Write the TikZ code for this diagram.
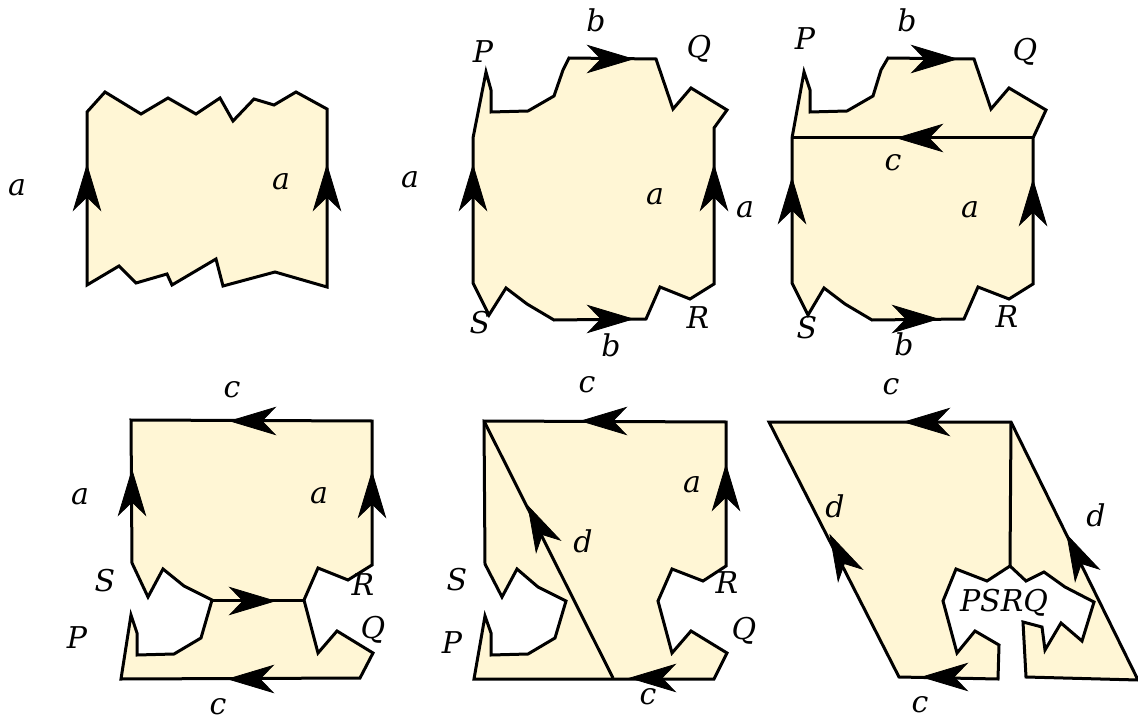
\documentclass[tikz,border=0pt]{standalone}
\usepackage{fontspec}
\setmainfont{DejaVu Serif}
\definecolor{paper}{HTML}{FFF6D5}
\tikzset{
  sheet/.style={draw=black,fill=paper,line width=3pt,miter limit=10},
  fold/.style={draw=black,line width=3pt},
  lab/.style={inner sep=0pt,font=\fontsize{30}{30}\selectfont\itshape,text=black},
  barb/.pic={\filldraw[black,line width=0.8pt,line join=miter] (0,0)--(-45,13.5)--(-32,0)--(-45,-13.5)--cycle;}
}
\begin{document}
\begin{tikzpicture}[x=1pt,y=-1pt]
\useasboundingbox (0,0) rectangle (1138,722);
% 1
\draw[sheet] (87,112)--(105,92)--(141,114)--(168,98)--(196,114)--(220,98)--(233,121)--(254,99)--(274,105)--(296,92)--(327,109)--(327,287)--(275,272)--(223,286)--(216,259)--(172,285)--(167,274)--(136,283)--(119,266)--(87,285)--cycle;
\pic[rotate=90] at (87,165) {barb};
\pic[rotate=90] at (327,165) {barb};
\node[lab] (a1) at (17,188) {a};
\node[lab] (a2) at (281,182) {a};
% 2
\draw[sheet] (473,138)--(486,72)--(491,90)--(491,112)--(528,111)--(554,96)--(563,70)--(569,58)--(656,59)--(673,109)--(691,88)--(727,110)--(714,128)--(714,284)--(690,299)--(660,287)--(646,319)--(554,320)--(527,304)--(506,288)--(489,315)--(473,283)--cycle;
\pic[rotate=90] at (473,165) {barb};
\pic[rotate=90] at (714,165) {barb};
\pic at (633,59) {barb};
\pic at (633,319) {barb};
\node[lab] (a3) at (410,180) {a};
\node[lab] (a4) at (655,197) {a};
\node[lab] (a5) at (745,210) {a};
\node[lab] (b1) at (596,20) {b};
\node[lab] (b2) at (611,345) {b};
\node[lab] (P1) at (483,52) {P};
\node[lab] (Q1) at (699,49) {Q};
\node[lab] (S1) at (480,323) {S};
\node[lab] (R1) at (698,318) {R};
% 3
\draw[sheet] (792,138)--(804,72)--(810,90)--(810,112)--(847,111)--(873,96)--(881,70)--(888,58)--(974,59)--(991,109)--(1009,88)--(1046,110)--(1033,138)--(1033,284)--(1009,299)--(978,287)--(964,319)--(872,320)--(845,304)--(824,288)--(808,315)--(792,283)--cycle;
\coordinate (c3l) at (792,138);
\coordinate (c3r) at (1033,138);
\draw[fold] (c3l)--(c3r);
\pic[rotate=180] at (897,138) {barb};
\pic[rotate=90] at (792,178) {barb};
\pic[rotate=90] at (1033,180) {barb};
\pic at (957,59) {barb};
\pic at (938,319) {barb};
\node[lab] (P2) at (805,39) {P};
\node[lab] (b3) at (907,20) {b};
\node[lab] (Q2) at (1025,52) {Q};
\node[lab] (c1) at (893,163) {c};
\node[lab] (a6) at (970,210) {a};
\node[lab] (R2) at (1007,317) {R};
\node[lab] (S2) at (807,328) {S};
\node[lab] (b4) at (904,344) {b};
% 4
\draw[sheet] (131,420)--(372,421)--(372,565)--(348,580)--(318,568)--(304,600)--(318,653)--(337,631)--(373,653)--(360,678)--(121,679)--(131,615)--(137,633)--(137,655)--(174,654)--(201,638)--(212,600)--(184,586)--(163,569)--(148,597)--(132,563)--cycle;
\coordinate (c4l) at (212,600);
\coordinate (c4r) at (304,600);
\draw[fold] (c4l)--(c4r);
\pic at (275,601) {barb};
\pic[rotate=180] at (230,421) {barb};
\pic[rotate=180] at (228,679) {barb};
\pic[rotate=90] at (132,470) {barb};
\pic[rotate=90] at (372,472) {barb};
\node[lab] (c2) at (232,390) {c};
\node[lab] (a7) at (80,497) {a};
\node[lab] (a8) at (319,496) {a};
\node[lab] (S3) at (105,581) {S};
\node[lab] (R3) at (363,585) {R};
\node[lab] (P3) at (77,638) {P};
\node[lab] (Q3) at (373,630) {Q};
\node[lab] (c3) at (218,707) {c};
% 5
\draw[sheet] (484,421)--(726,422)--(726,566)--(703,581)--(672,569)--(658,601)--(672,653)--(691,631)--(727,653)--(714,679)--(474,679)--(485,616)--(491,633)--(491,655)--(528,654)--(555,638)--(566,601)--(538,587)--(517,569)--(502,597)--(485,564)--cycle;
\coordinate (d5t) at (484,421);
\coordinate (d5b) at (613,678);
\draw[fold] (d5t)--(d5b);
\pic[rotate=116.7] at (528,506) {barb};
\pic[rotate=180] at (630,678) {barb};
\pic[rotate=180] at (581,421) {barb};
\pic[rotate=90] at (726,465) {barb};
\node[lab] (c4) at (587,385) {c};
\node[lab] (a9) at (692,485) {a};
\node[lab] (d1) at (583,541) {d};
\node[lab] (S4) at (457,580) {S};
\node[lab] (R4) at (727,583) {R};
\node[lab] (P4) at (452,643) {P};
\node[lab] (Q4) at (744,631) {Q};
\node[lab] (c5) at (648,697) {c};
% 6
\draw[sheet] (769,422)--(1011,422)--(1138,680)--(1026,677)--(1023,622)--(1042,627)--(1045,650)--(1061,623)--(1082,641)--(1094,602)--(1065,587)--(1044,572)--(1026,581)--(1010,566)--(987,581)--(956,569)--(943,601)--(957,653)--(975,631)--(999,645)--(998,679)--(899,677)--cycle;
\coordinate (e6t) at (1011,422);
\coordinate (e6b) at (1010,566);
\draw[fold] (e6t)--(e6b);
\pic[rotate=180] at (904,422) {barb};
\pic[rotate=180] at (922,677) {barb};
\pic[rotate=116.7] at (830,535) {barb};
\pic[rotate=116.7] at (1067,535) {barb};
\node[lab] (c6) at (891,387) {c};
\node[lab] (d2) at (835,506) {d};
\node[lab] (d3) at (1096,515) {d};
\node[lab] (psrq) at (1004,603) {PSRQ};
\node[lab] (c7) at (920,705) {c};
\end{tikzpicture}
\end{document}
